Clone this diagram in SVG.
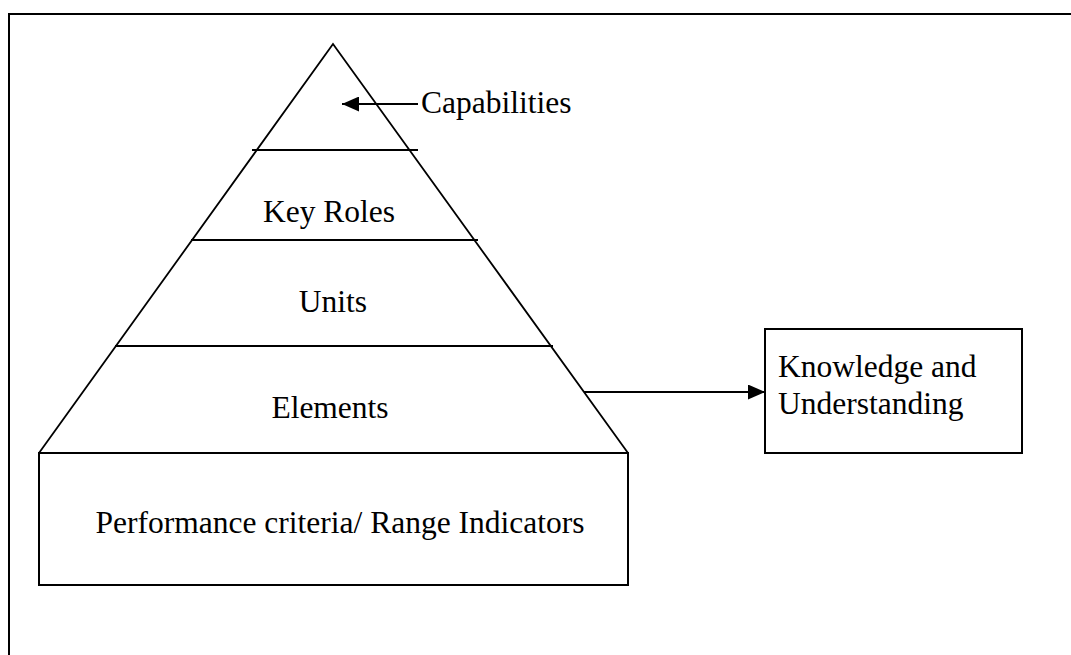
<svg xmlns="http://www.w3.org/2000/svg" width="1071" height="655" viewBox="0 0 1071 655">
<style>
.t{font-family:"Liberation Serif","Times New Roman",serif;font-size:31.5px;fill:#000}
.s{stroke:#000;stroke-width:1.8;fill:none}
.b{stroke:#000;stroke-width:2;fill:#fff}
</style>
<defs>
<marker id="ah2" markerWidth="17" markerHeight="15" refX="17" refY="7.5" orient="auto" markerUnits="userSpaceOnUse" viewBox="0 0 17 15">
<path d="M0,0 L17,7.5 L0,15 z" fill="#000"/>
</marker>
</defs>
<rect width="1071" height="655" fill="#fff"/>
<g id="frame"><path d="M9,655 L9,14 L1071,14" fill="none" stroke="#000" stroke-width="2"/></g>
<g id="pyramid">
<path class="s" d="M39,453 L333,44 L628,453"/>
<line class="s" x1="252" y1="150" x2="418" y2="150"/>
<line class="s" x1="191" y1="240" x2="478" y2="240"/>
<line class="s" x1="115" y1="346" x2="553" y2="346"/>
</g>
<g id="capabilities"><text class="t" x="421" y="113">Capabilities</text></g>
<g id="key-roles"><text class="t" x="329" y="222" text-anchor="middle">Key Roles</text></g>
<g id="units"><text class="t" x="333" y="312" text-anchor="middle">Units</text></g>
<g id="elements"><text class="t" x="330" y="418" text-anchor="middle">Elements</text></g>
<g id="performance">
<rect class="b" x="39" y="453" width="589" height="132"/>
<text class="t" x="340" y="533" text-anchor="middle">Performance criteria/ Range Indicators</text>
</g>
<g id="knowledge">
<rect class="b" x="765" y="329" width="257" height="124"/>
<text class="t" x="778" y="377">Knowledge and</text>
<text class="t" x="778" y="414">Understanding</text>
</g>
<g id="connectors">
<line x1="418" y1="104" x2="342" y2="104" stroke="#000" stroke-width="1.8" marker-end="url(#ah2)"/>
<line x1="584" y1="392" x2="765" y2="392" stroke="#000" stroke-width="1.8" marker-end="url(#ah2)"/>
</g>
</svg>
